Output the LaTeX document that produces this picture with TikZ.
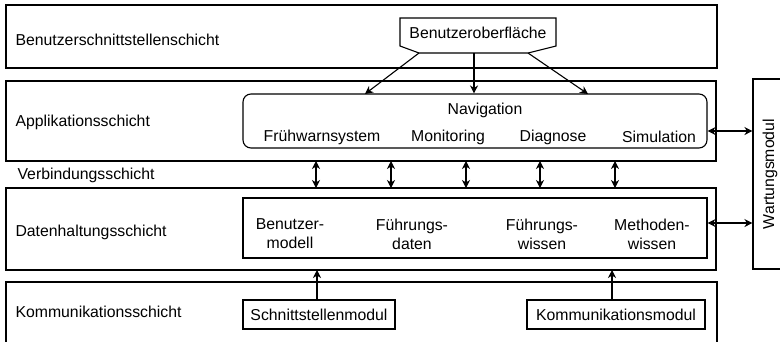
\documentclass[tikz,border=0pt]{standalone}
\usepackage{fontspec}
\setmainfont{Liberation Sans}
\usetikzlibrary{arrows.meta,fit}
\begin{document}
\begin{tikzpicture}[x=1pt,y=-1pt,
  line width=1.1pt,
  every node/.style={font=\fontsize{15.8}{19}\selectfont},
  layerbox/.style={draw, inner sep=0pt, rectangle},
  modbox/.style={draw, inner sep=0pt, rectangle},
  navbox/.style={draw, inner sep=0pt, rounded corners=8pt},
  lbl/.style={anchor=west, inner sep=0pt},
  cell/.style={align=center, inner sep=0pt},
  arr/.style={-{Stealth[length=8pt,width=8pt,inset=2.5pt]}},
  darr/.style={{Stealth[length=8pt,width=8pt,inset=2.5pt]}-{Stealth[length=8pt,width=8pt,inset=2.5pt]}}]
\useasboundingbox (0,0) rectangle (780,341);
\clip (0,0) rectangle (780,341);

% layers
\node[layerbox, fit={(6,5)(717,68)}] (ui) {};
\node[layerbox, fit={(6,81)(716,161)}] (app) {};
\node[layerbox, fit={(6,188)(716,270)}] (data) {};
\node[layerbox, fit={(6,282)(717,380)}] (comm) {};
\node[layerbox, fit={(753,79)(800,269)}] (wart) {};

\node[lbl] (uil) at (15,40) {Benutzerschnittstellenschicht};
\node[lbl] (appl) at (15,122) {Applikationsschicht};
\node[lbl] (verb) at (17,175) {Verbindungsschicht};
\node[lbl] (datal) at (15,232) {Datenhaltungsschicht};
\node[lbl] (comml) at (15,312) {Kommunikationsschicht};
\node[rotate=90, inner sep=0pt] (wartl) at (770,174) {Wartungsmodul};

% user interface element
\draw (400,18) -- (556,18) -- (556,46) -- (528,53) -- (419,53) -- (400,46) -- cycle;
\coordinate (uibl) at (419,53);
\coordinate (uibm) at (474,53);
\coordinate (uibr) at (528,53);
\node[inner sep=0pt] (bo) at (478,33) {Benutzeroberfläche};

% application block
\node[navbox, fit={(243,94)(707,148)}] (nav) {};
\node[inner sep=0pt] (navt) at (485,110) {Navigation};
\node[inner sep=0pt] (fw) at (322,137) {Frühwarnsystem};
\node[inner sep=0pt] (mon) at (448,137) {Monitoring};
\node[inner sep=0pt] (dia) at (553,137) {Diagnose};
\node[inner sep=0pt] (sim) at (659,137) {Simulation};

\draw[arr] (uibl) -- (365,94);
\draw[arr] (uibm) -- (uibm |- nav.north);
\draw[arr] (uibr) -- (588,94);

% data block
\node[modbox, fit={(243,198)(707,258)}] (dbox) {};
\node[cell] (bm) at (290,234) {Benutzer-\\modell};
\node[cell] (fd) at (412,234) {Führungs-\\daten};
\node[cell] (fwi) at (542,234) {Führungs-\\wissen};
\node[cell] (mw) at (652,234) {Methoden-\\wissen};

% connection layer arrows
\foreach \x in {316,391,466,540,615}
  \draw[darr] (\x,161) -- (\x,188);

% maintenance links
\draw[darr] (nav.east |- 0,131) -- (wart.west |- 0,131);
\draw[darr] (dbox.east |- 0,223) -- (wart.west |- 0,223);

% communication modules
\node[modbox, fit={(243,300)(395,329)}] (sm) {};
\node[inner sep=0pt] at (sm.center) {Schnittstellenmodul};
\node[modbox, fit={(527,300)(705,329)}] (km) {};
\node[inner sep=0pt] at (km.center) {Kommunikationsmodul};

\draw[arr] (317,300) -- (317,270);
\draw[arr] (612,300) -- (612,270);
\end{tikzpicture}
\end{document}
